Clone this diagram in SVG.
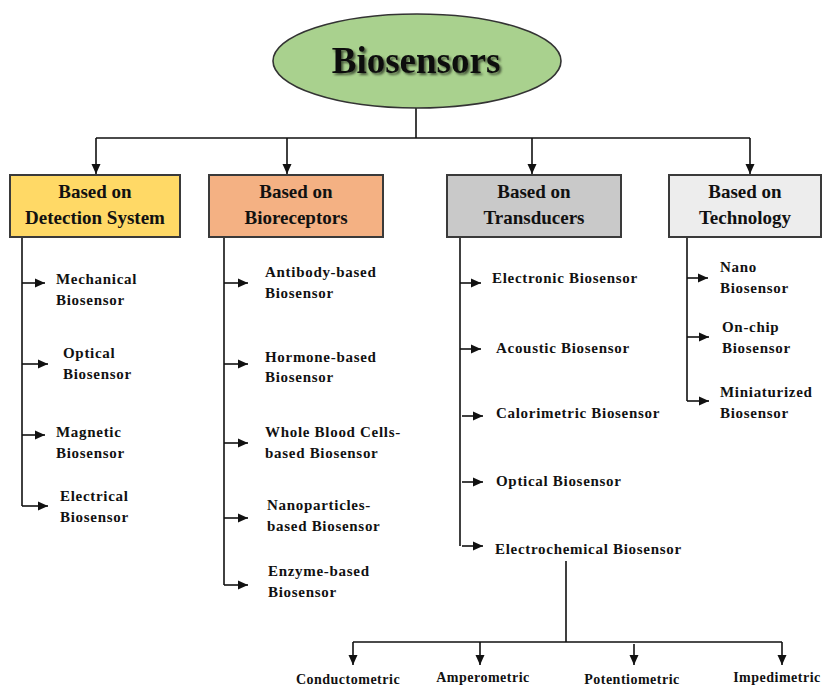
<svg xmlns="http://www.w3.org/2000/svg" width="824" height="688" viewBox="0 0 824 688">
<defs>
<marker id="ah" markerUnits="userSpaceOnUse" markerWidth="10" markerHeight="10" viewBox="0 0 10 10" refX="10" refY="5" orient="auto">
<path d="M0 0.5 L10 5 L0 9.5 Z" fill="#111"/>
</marker>
<filter id="sh" x="-10%" y="-20%" width="130%" height="150%">
<feDropShadow dx="2" dy="2" stdDeviation="1.2" flood-color="#2f3b26" flood-opacity="0.8"/>
</filter>
</defs>
<style>
text{font-family:"Liberation Serif","Times New Roman",serif;font-weight:bold;fill:#111;}
.box{stroke:#3a3a3a;stroke-width:2;}
.bt{font-size:19px;text-anchor:middle;}
.it{font-size:15px;letter-spacing:0.7px;}
.bo{font-size:14px;letter-spacing:0.5px;text-anchor:middle;}
.ln{fill:none;stroke:#111;stroke-width:1.6;}
.ar{fill:none;stroke:#111;stroke-width:1.6;marker-end:url(#ah);}
</style>

<g id="connectors">
<path class="ln" d="M416 108 V138 M96 138 H750"/>
<path class="ar" d="M96 138 V174"/>
<path class="ar" d="M287 138 V174"/>
<path class="ar" d="M532 138 V174"/>
<path class="ar" d="M750 138 V174"/>

<path class="ln" d="M22 237 V506"/>
<path class="ar" d="M22 283 H45"/>
<path class="ar" d="M22 364 H48"/>
<path class="ar" d="M22 435 H45"/>
<path class="ar" d="M22 506 H48"/>

<path class="ln" d="M224 237 V585"/>
<path class="ar" d="M224 283 H248"/>
<path class="ar" d="M224 364 H248"/>
<path class="ar" d="M224 443 H248"/>
<path class="ar" d="M224 518 H248"/>
<path class="ar" d="M224 585 H248"/>

<path class="ln" d="M460 237 V546"/>
<path class="ar" d="M460 283 H481"/>
<path class="ar" d="M460 349 H481"/>
<path class="ar" d="M462 416 H483"/>
<path class="ar" d="M462 482 H483"/>
<path class="ar" d="M462 546 H483"/>

<path class="ln" d="M687 237 V401"/>
<path class="ar" d="M687 278 H708"/>
<path class="ar" d="M687 337 H709"/>
<path class="ar" d="M687 401 H709"/>

<path class="ln" d="M566 561 V642 M353 642 H782"/>
<path class="ar" d="M353 642 V665"/>
<path class="ar" d="M480 642 V665"/>
<path class="ar" d="M634 644 V665"/>
<path class="ar" d="M782 642 V665"/>
</g>

<g id="root">
<ellipse cx="417" cy="61" rx="144" ry="47" fill="#A9D18E" stroke="#333" stroke-width="1.6"/>
<text x="416" y="73" font-size="37" text-anchor="middle" filter="url(#sh)">Biosensors</text>
</g>

<g id="box-detection">
<rect class="box" x="10" y="175" width="170" height="62" fill="#FFD966"/>
<text class="bt" x="95" y="198">Based on</text>
<text class="bt" x="95" y="224">Detection System</text>
</g>
<g id="box-bioreceptors">
<rect class="box" x="209" y="175" width="174" height="62" fill="#F4B183"/>
<text class="bt" x="296" y="198">Based on</text>
<text class="bt" x="296" y="224">Bioreceptors</text>
</g>
<g id="box-transducers">
<rect class="box" x="447" y="175" width="174" height="62" fill="#C9C9C9"/>
<text class="bt" x="534" y="198">Based on</text>
<text class="bt" x="534" y="224">Transducers</text>
</g>
<g id="box-technology">
<rect class="box" x="669" y="175" width="152" height="62" fill="#EDEDED"/>
<text class="bt" x="745" y="198">Based on</text>
<text class="bt" x="745" y="224">Technology</text>
</g>

<g id="mechanical"><text class="it" x="56" y="284">Mechanical</text><text class="it" x="56" y="305">Biosensor</text></g>
<g id="optical-d"><text class="it" x="63" y="358">Optical</text><text class="it" x="63" y="379">Biosensor</text></g>
<g id="magnetic"><text class="it" x="56" y="437">Magnetic</text><text class="it" x="56" y="458">Biosensor</text></g>
<g id="electrical"><text class="it" x="60" y="501">Electrical</text><text class="it" x="60" y="522">Biosensor</text></g>

<g id="antibody"><text class="it" x="265" y="277">Antibody-based</text><text class="it" x="265" y="298">Biosensor</text></g>
<g id="hormone"><text class="it" x="265" y="362">Hormone-based</text><text class="it" x="265" y="382">Biosensor</text></g>
<g id="wholeblood"><text class="it" x="265" y="437">Whole Blood Cells-</text><text class="it" x="265" y="458">based Biosensor</text></g>
<g id="nanoparticles"><text class="it" x="267" y="510">Nanoparticles-</text><text class="it" x="267" y="531">based Biosensor</text></g>
<g id="enzyme"><text class="it" x="268" y="576">Enzyme-based</text><text class="it" x="268" y="597">Biosensor</text></g>

<g id="electronic"><text class="it" x="492" y="283">Electronic Biosensor</text></g>
<g id="acoustic"><text class="it" x="496" y="353">Acoustic Biosensor</text></g>
<g id="calorimetric"><text class="it" x="496" y="418">Calorimetric Biosensor</text></g>
<g id="optical-t"><text class="it" x="496" y="486">Optical Biosensor</text></g>
<g id="electrochemical"><text class="it" x="495" y="554">Electrochemical Biosensor</text></g>

<g id="nano"><text class="it" x="720" y="272">Nano</text><text class="it" x="720" y="293">Biosensor</text></g>
<g id="onchip"><text class="it" x="722" y="332">On-chip</text><text class="it" x="722" y="353">Biosensor</text></g>
<g id="miniaturized"><text class="it" x="720" y="397">Miniaturized</text><text class="it" x="720" y="418">Biosensor</text></g>

<g id="conductometric"><text class="bo" x="348" y="684">Conductometric</text></g>
<g id="amperometric"><text class="bo" x="483" y="682">Amperometric</text></g>
<g id="potentiometric"><text class="bo" x="632" y="684">Potentiometric</text></g>
<g id="impedimetric"><text class="bo" x="777" y="682">Impedimetric</text></g>
</svg>
